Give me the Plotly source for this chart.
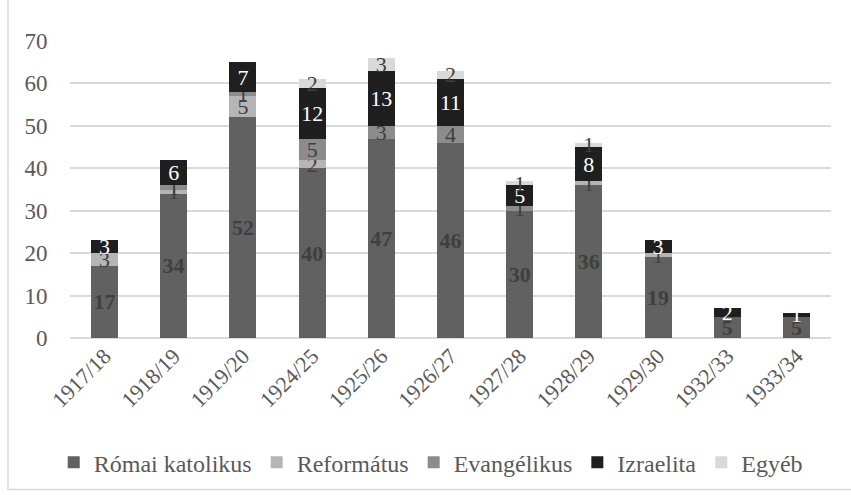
import plotly.graph_objects as go

categories = ["1917/18", "1918/19", "1919/20", "1924/25", "1925/26", "1926/27",
              "1927/28", "1928/29", "1929/30", "1932/33", "1933/34"]
romai_katolikus = [17, 34, 52, 40, 47, 46, 30, 36, 19, 5, 5]
reformatus      = [3, 1, 5, 2, 0, 0, 0, 1, 1, 0, 0]
evangelikus     = [0, 1, 1, 5, 3, 4, 1, 0, 0, 0, 0]
izraelita       = [3, 6, 7, 12, 13, 11, 5, 8, 3, 2, 1]
egyeb           = [0, 0, 0, 2, 3, 2, 1, 1, 0, 0, 0]

SERIF = "Times New Roman, Liberation Serif, Tinos, DejaVu Serif, serif"

series = [
    ("Római katolikus", romai_katolikus, "#616161", dict(color="#3f3f3f", size=25, family=SERIF), True),
    ("Református", reformatus, "#b5b5b5", dict(color="#404040", size=22, family=SERIF), False),
    ("Evangélikus", evangelikus, "#8c8c8c", dict(color="#404040", size=22, family=SERIF), False),
    ("Izraelita", izraelita, "#1f1f1f", dict(color="#ffffff", size=22, family=SERIF), False),
    ("Egyéb", egyeb, "#d9d9d9", dict(color="#404040", size=22, family=SERIF), False),
]

fig = go.Figure()
for name, vals, color, tfont, bold in series:
    txt = [("<b>%d</b>" % v if bold else str(v)) if v else "" for v in vals]
    fig.add_trace(go.Bar(
        name=name, x=categories, y=vals, marker=dict(color=color, line=dict(width=0)),
        text=txt, textposition="inside", insidetextanchor="middle", textangle=0,
        textfont=tfont, cliponaxis=False, constraintext="none",
    ))

fig.update_layout(
    barmode="stack",
    bargap=0.61,
    width=851, height=495,
    margin=dict(l=70, r=20, t=41, b=157, autoexpand=False),
    paper_bgcolor="white", plot_bgcolor="white",
    font=dict(family=SERIF, color="#595959", size=23),
    uniformtext=dict(mode="show", minsize=22),
    showlegend=True,
    legend=dict(orientation="h", x=0.474, xanchor="center", y=-0.42, yanchor="middle",
                font=dict(size=24, color="#595959", family=SERIF),
                itemwidth=30, tracegroupgap=0, traceorder="normal"),
    xaxis=dict(tickangle=-45, showgrid=False, showline=False, ticks="",
               tickfont=dict(size=22, color="#595959", family=SERIF)),
    yaxis=dict(range=[0, 70], dtick=10, showgrid=True, gridcolor="#d9d9d9", gridwidth=1.5,
               zeroline=True, zerolinecolor="#d9d9d9", zerolinewidth=1.5, showline=False,
               ticks="outside", ticklen=17, tickcolor="rgba(0,0,0,0)",
               tickfont=dict(size=23, color="#595959", family=SERIF)),
    shapes=[dict(type="rect", xref="paper", yref="paper",
                 x0=-0.0815, x1=1.1, y0=-0.51, y1=1.2,
                 line=dict(color="#d9d9d9", width=1.5), fillcolor="rgba(0,0,0,0)", layer="below")],
)

fig.write_html("out.html", config={"displayModeBar": False},
               post_script="document.body.style.margin='0px';")
